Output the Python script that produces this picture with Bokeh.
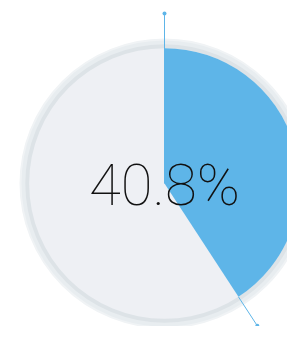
import math
from bokeh.plotting import figure
from bokeh.models import Range1d
from bokeh.core.properties import value
from bokeh.embed import file_html
from bokeh.resources import INLINE

# data
percent = [40.8]
label = ["40.8%"]

frac = percent[0] / 100.0
start = math.pi / 2
end = start - frac * 2 * math.pi

# layout (reference-pixel units, centred on the dial)
s = 0.96
cx, cy = 164, 183
W, H = 287, 326
R_OUT, R_RING, R_IN = 150, 145, 141
R_LINE = 177

p = figure(width=W, height=H, output_backend="svg", toolbar_location=None,
           x_range=Range1d(-cx / s, (W - cx) / s),
           y_range=Range1d((cy - H) / s, cy / s),
           min_border=0)
p.axis.visible = False
p.grid.visible = False
p.outline_line_color = None
p.background_fill_color = "white"
p.border_fill_color = "white"

# ring
p.circle(x=[0], y=[0], radius=R_OUT, fill_color="#e8edf0", line_color="#f0f3f5", line_width=2)
p.circle(x=[0], y=[0], radius=R_RING, fill_color="#dde3e7", line_color=None)
p.circle(x=[0], y=[0], radius=R_IN, fill_color="#eef0f4", line_color=None)

# value wedge
p.wedge(x=[0], y=[0], radius=R_IN, start_angle=[start], end_angle=[end],
        direction="clock", fill_color="#5eb5e8", line_color=None)

# leader lines
angs = [start, end]
x0 = [R_IN * math.cos(a) for a in angs]
y0 = [R_IN * math.sin(a) for a in angs]
x1 = [R_LINE * math.cos(a) for a in angs]
y1 = [R_LINE * math.sin(a) for a in angs]
x0[0], y0[0] = 0, 0
p.segment(x0=x0, y0=y0, x1=x1, y1=y1, line_color="#5eb5e8", line_width=1)
p.scatter(x=x1, y=y1, size=4, marker="circle", fill_color="#5eb5e8", line_color=None)

# label
p.text(x=[0], y=[-2], text=label, text_align="center", text_baseline="middle",
       text_font=value("Roboto Thin, Lato Hairline, Lato Thin, sans-serif"),
       text_font_size="58px", text_color="#111111")

open("out.html", "w").write(file_html(p, INLINE))
